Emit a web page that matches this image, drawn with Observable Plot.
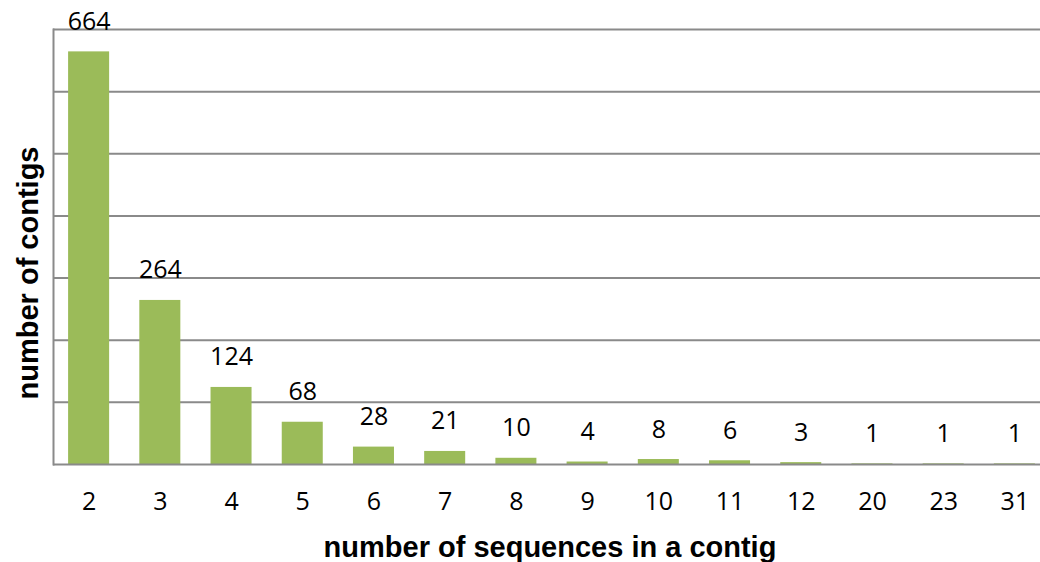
<!DOCTYPE html>
<html>
<head>
<meta charset="utf-8">
<script src="https://cdn.jsdelivr.net/npm/d3@7"></script>
<script src="https://cdn.jsdelivr.net/npm/@observablehq/plot@0.6"></script>
<style>
  html, body { margin: 0; padding: 0; background: #fff; }
  #chart svg { display: block; }
</style>
</head>
<body>
<div id="chart"></div>
<script>
const categories = ["2", "3", "4", "5", "6", "7", "8", "9", "10", "11", "12", "20", "23", "31"];
const counts = [664, 264, 124, 68, 28, 21, 10, 4, 8, 6, 3, 1, 1, 1];
const gridValues = [100, 200, 300, 400, 500, 600, 700];
const xTitle = "number of sequences in a contig";
const yTitle = "number of contigs";

const data = categories.map((c, i) => ({cat: c, n: counts[i]}));

const chart = Plot.plot({
  width: 1040,
  height: 562,
  marginLeft: 53,
  marginRight: 0,
  marginTop: 29,
  marginBottom: 98,
  style: {fontFamily: "'Open Sans', sans-serif", fontSize: "25px", color: "#000", background: "#fff"},
  x: {domain: categories, range: [53, 1050], round: false, paddingInner: 0.424, paddingOuter: 0.212, label: null},
  y: {domain: [0, 700], label: null},
  marks: [
    Plot.ruleY(gridValues, {stroke: "#8a8a8a", strokeWidth: 2, strokeOpacity: 1}),
    Plot.barY(data, {x: "cat", y: "n", fill: "#9BBB59"}),
    Plot.ruleY([0], {stroke: "#8a8a8a", strokeWidth: 2}),
    Plot.frame({anchor: "left", stroke: "#8a8a8a", strokeWidth: 2}),
    Plot.text(data, {x: "cat", y: "n", text: d => String(d.n), dy: -30, lineAnchor: "middle", fill: "#000", fontSize: 25}),
    Plot.axisX({tickSize: 0, tickPadding: 28, fontSize: 25, fill: "#000"}),
    Plot.axisY({ticks: [], label: null}),
    Plot.text([xTitle], {frameAnchor: "bottom", textAnchor: "middle", dx: 3, dy: 83, lineAnchor: "middle", fontWeight: "bold", fontSize: 29, fontFamily: "'Liberation Sans', Arial, sans-serif", fill: "#000"}),
    Plot.text([yTitle], {frameAnchor: "left", textAnchor: "middle", dx: -25, dy: 26, rotate: -90, lineAnchor: "middle", fontWeight: "bold", fontSize: 29, fontFamily: "'Liberation Sans', Arial, sans-serif", fill: "#000"})
  ]
});
document.getElementById("chart").appendChild(chart);
</script>
</body>
</html>
